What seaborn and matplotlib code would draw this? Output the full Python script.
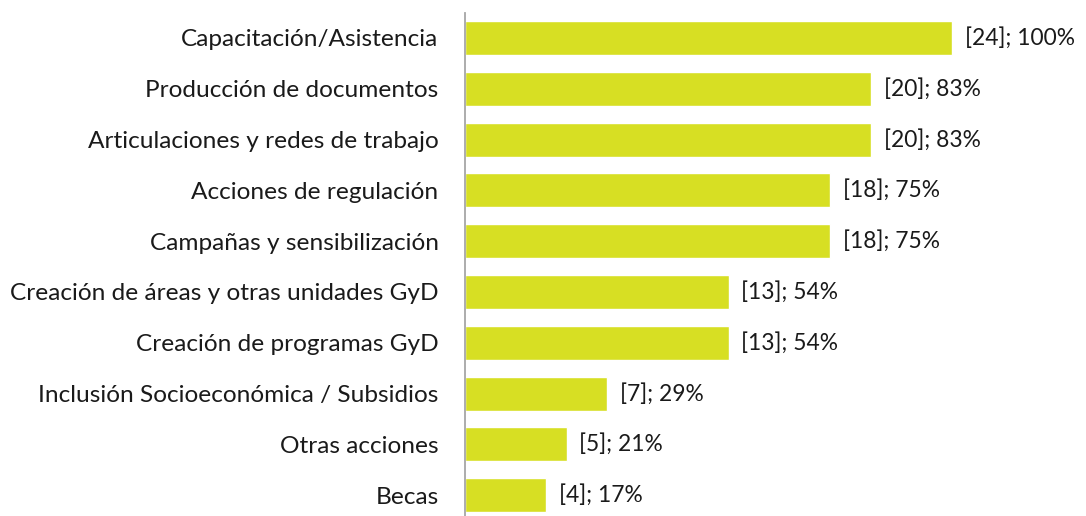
import matplotlib
matplotlib.use("Agg")
import matplotlib.pyplot as plt
import seaborn as sns
import pandas as pd

categories = [
    "Capacitación/Asistencia",
    "Producción de documentos",
    "Articulaciones y redes de trabajo",
    "Acciones de regulación",
    "Campañas y sensibilización",
    "Creación de áreas y otras unidades GyD",
    "Creación de programas GyD",
    "Inclusión Socioeconómica / Subsidios",
    "Otras acciones",
    "Becas",
]
counts = [24, 20, 20, 18, 18, 13, 13, 7, 5, 4]
percents = [100, 83, 83, 75, 75, 54, 54, 29, 21, 17]

df = pd.DataFrame({"categoria": categories, "n": counts, "pct": percents})

sns.set_style("white")
plt.rcParams["font.family"] = ["Lato", "DejaVu Sans"]

fig = plt.figure(figsize=(10.86, 5.16), dpi=100)
ax = fig.add_axes([465 / 1086, -4.6 / 516, (1080 - 465) / 1086, 508 / 516])

sns.barplot(data=df, x="n", y="categoria", orient="h", color="#d7df23",
            saturation=1, width=0.67, ax=ax)

ax.set_xlim(0, (1080 - 465) / 20.3)
ax.set_ylim(9.5, -0.5)
ax.set_xlabel("")
ax.set_ylabel("")
ax.set_xticks([])

for side in ["top", "right", "bottom"]:
    ax.spines[side].set_visible(False)
ax.spines["left"].set_color("#a6a6a6")
ax.spines["left"].set_linewidth(1.3)

ax.tick_params(axis="y", length=0, pad=19, labelsize=17.6, labelcolor="#1a1a1a")

for i, (n, p) in enumerate(zip(counts, percents)):
    ax.annotate(f"[{n}]; {p}%", xy=(n, i), xytext=(9, 0), textcoords="offset points",
                va="center", ha="left", fontsize=16.4, color="#1a1a1a")

fig.savefig("out.png", dpi=100)
